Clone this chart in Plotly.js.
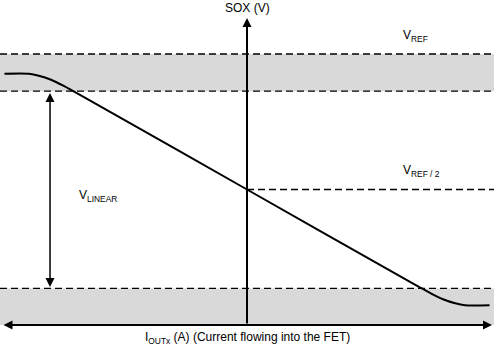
<!DOCTYPE html>
<html>
<head>
<meta charset="utf-8">
<script src="https://cdn.plot.ly/plotly-3.0.1.min.js"></script>
<style>
  html, body { margin: 0; padding: 0; background: #ffffff; }
  #chart { width: 494px; height: 346px; }
</style>
</head>
<body>
<div id="chart"></div>
<script>
// Output voltage (in units of VREF) versus normalised FET current.
const currentPts = [-0.99, -0.89, -0.85, -0.80, -0.75, -0.70, -0.66, 0.0, 0.66, 0.70, 0.75, 0.80, 0.85, 0.89, 0.99];
const soxPts     = [0.927, 0.927, 0.920, 0.905, 0.883, 0.858, 0.838, 0.5, 0.162, 0.142, 0.117, 0.095, 0.080, 0.073, 0.073];

// Reference levels (fraction of VREF)
const refLevels   = [1.0, 0.863, 0.5, 0.135];   // VREF, upper knee, VREF/2, lower knee
const upperBand   = [0.863, 1.0];
const lowerBand   = [0.0, 0.135];

// Axis extents and the VLINEAR span marker
const currentSpan = [-1.0, 1.0];
const soxAxisTop  = 1.133;
const linearSpan  = [0.135, 0.856];
const linearAt    = -0.804;

const xRange = [-1.0082, 1.0082];
const yRange = [-0.0775, 1.1993];

const font = { family: 'Liberation Sans, Arial, sans-serif', size: 12, color: '#000000' };
const dashStyle = '7px,4px';
const dashLine = { color: '#000000', width: 1.3, dash: dashStyle };

const shapes = [
  { type: 'rect', xref: 'x', yref: 'y', x0: xRange[0], x1: xRange[1], y0: upperBand[0], y1: upperBand[1],
    fillcolor: '#d9d9d9', line: { width: 0 }, layer: 'below' },
  { type: 'rect', xref: 'x', yref: 'y', x0: xRange[0], x1: xRange[1], y0: lowerBand[0], y1: lowerBand[1],
    fillcolor: '#d9d9d9', line: { width: 0 }, layer: 'below' },
  { type: 'line', xref: 'x', yref: 'y', x0: xRange[0], x1: xRange[1], y0: refLevels[0], y1: refLevels[0], line: dashLine },
  { type: 'line', xref: 'x', yref: 'y', x0: xRange[0], x1: xRange[1], y0: refLevels[1], y1: refLevels[1], line: dashLine },
  { type: 'line', xref: 'x', yref: 'y', x0: 0, x1: xRange[1], y0: refLevels[2], y1: refLevels[2], line: dashLine },
  { type: 'line', xref: 'x', yref: 'y', x0: xRange[0], x1: xRange[1], y0: refLevels[3], y1: refLevels[3], line: dashLine }
];

const annotations = [
  // current axis (double headed)
  { x: currentSpan[1], y: 0, ax: currentSpan[0], ay: 0, xref: 'x', yref: 'y', axref: 'x', ayref: 'y',
    showarrow: true, arrowhead: 2, arrowside: 'end+start', arrowwidth: 2, arrowsize: 0.9, arrowcolor: '#000000', text: '' },
  // SOX voltage axis
  { x: 0, y: soxAxisTop, ax: 0, ay: 0, xref: 'x', yref: 'y', axref: 'x', ayref: 'y',
    showarrow: true, arrowhead: 2, arrowwidth: 2, arrowsize: 0.9, arrowcolor: '#000000', text: '' },
  // VLINEAR span
  { x: linearAt, y: linearSpan[1], ax: linearAt, ay: linearSpan[0], xref: 'x', yref: 'y', axref: 'x', ayref: 'y',
    showarrow: true, arrowhead: 2, arrowside: 'end+start', arrowwidth: 1.5, arrowsize: 1.2, arrowcolor: '#000000', text: '' },

  { x: 0, y: 1.17, xref: 'x', yref: 'y', text: 'SOX (V)', showarrow: false, xanchor: 'center', yanchor: 'middle', font: font },
  { x: 0.63, y: 1.066, xref: 'x', yref: 'y', text: 'V<sub>REF</sub>', showarrow: false, xanchor: 'left', yanchor: 'middle', font: font },
  { x: 0.63, y: 0.568, xref: 'x', yref: 'y', text: 'V<sub>REF / 2</sub>', showarrow: false, xanchor: 'left', yanchor: 'middle', font: font },
  { x: -0.694, y: 0.476, xref: 'x', yref: 'y', text: 'V<sub>LINEAR</sub>', showarrow: false, xanchor: 'left', yanchor: 'middle', font: font },
  { x: 0.004, y: -0.048, xref: 'x', yref: 'y', text: 'I<sub>OUTx</sub> (A) (Current flowing into the FET)', showarrow: false,
    xanchor: 'center', yanchor: 'middle', font: font }
];

const traces = [{
  x: currentPts,
  y: soxPts,
  type: 'scatter',
  mode: 'lines',
  line: { color: '#000000', width: 2, shape: 'spline', smoothing: 0.8 },
  hoverinfo: 'skip'
}];

const layout = {
  width: 494,
  height: 346,
  margin: { l: 0, r: 0, t: 0, b: 0, pad: 0 },
  paper_bgcolor: '#ffffff',
  plot_bgcolor: '#ffffff',
  showlegend: false,
  xaxis: { range: xRange, visible: false, fixedrange: true },
  yaxis: { range: yRange, visible: false, fixedrange: true },
  shapes: shapes,
  annotations: annotations,
  font: font
};

Plotly.newPlot('chart', traces, layout, { staticPlot: true, displayModeBar: false });
</script>
</body>
</html>
